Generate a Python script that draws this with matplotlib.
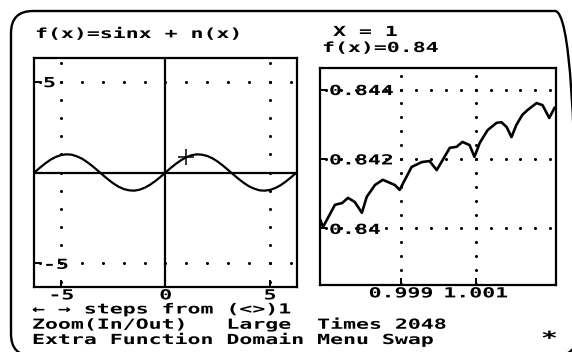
import numpy as np
import matplotlib
matplotlib.use('Agg')
import matplotlib.pyplot as plt
import matplotlib.patheffects as pe
from matplotlib.transforms import Affine2D, IdentityTransform
from matplotlib.patches import FancyBboxPatch

plt.rcParams.update({
    'font.family': ['DejaVu Sans Mono', 'DejaVu Sans'],
    'font.weight': 'bold',
    'font.size': 10,
})

W, H = 572, 352  # output size in pixels
SX = 1.55        # the screen font is much wider than it is tall

# left panel: f(x) = sin x + n(x), whole domain
full_x = np.linspace(-6.25, 6.25, 51)
full_y = [0.03, 0.28, 0.51, 0.71, 0.86, 0.96, 1.00, 0.98, 0.89, 0.76,
          0.57, 0.35, 0.11, -0.14, -0.38, -0.60, -0.78, -0.91, -0.98, -1.00,
          -0.95, -0.84, -0.68, -0.48, -0.25, 0.00, 0.25, 0.48, 0.68, 0.84,
          0.95, 1.00, 0.98, 0.91, 0.78, 0.60, 0.38, 0.14, -0.11, -0.35,
          -0.57, -0.76, -0.89, -0.98, -1.00, -0.96, -0.86, -0.71, -0.51, -0.28,
          -0.03]
cursor_x, cursor_y = 1.0, 0.84
full_xticks = [-5, 0, 5]
full_xlabels = ['-5', '0', '5']
full_yticks = [-5, 5]
full_ylabels = ['-5', '5']

# right panel: zoom around x = 1
zoom_x = [0.99684, 0.99692, 0.99724, 0.99743, 0.99759, 0.99777, 0.99796, 0.99809,
          0.99831, 0.99852, 0.99865, 0.99884, 0.99897, 0.99911, 0.99929, 0.99956,
          0.99977, 0.99996, 1.00012, 1.00031, 1.00049, 1.00065, 1.00084, 1.00097,
          1.00111, 1.00132, 1.00156, 1.00169, 1.00183, 1.00196, 1.00209, 1.00225,
          1.00239, 1.00263, 1.00279, 1.00297, 1.00311]
zoom_y = [0.84027, 0.84004, 0.84068, 0.84073, 0.84088, 0.84076, 0.84045, 0.84091,
          0.84125, 0.84140, 0.84134, 0.84125, 0.84111, 0.84140, 0.84177, 0.84191,
          0.84194, 0.84168, 0.84197, 0.84232, 0.84235, 0.84249, 0.84240, 0.84206,
          0.84246, 0.84283, 0.84304, 0.84306, 0.84292, 0.84263, 0.84298, 0.84327,
          0.84341, 0.84361, 0.84355, 0.84318, 0.84347]
zoom_xticks = [0.999, 1.001]
zoom_xlabels = ['0.999', '1.001']
zoom_yticks = [0.84, 0.842, 0.844]
zoom_ylabels = ['0.84', '0.842', '0.844']

menu_lines = ['\u2190 \u2192 steps from (<>)1',
              'Zoom(In/Out)   Large  Times 2048',
              'Extra Function Domain Menu Swap']


class Wide(pe.AbstractPathEffect):
    """Stretch text sideways, like the old pixel font."""
    def __init__(self, sx=SX, anchor=0.0):
        super().__init__()
        self.sx = sx
        self.anchor = anchor

    def draw_path(self, renderer, gc, tpath, affine, rgbFace=None):
        v = tpath.vertices
        cx = v[:, 0].max() * self.anchor if len(v) else 0.0
        t = Affine2D().translate(-cx, 0).scale(self.sx, 1).translate(cx, 0) + affine
        renderer.draw_path(gc, tpath, t, rgbFace)


def screen_text(x, y, s, **kw):
    # x, y: left edge and baseline (of the last line) in pixels from the top left
    return fig.text(x / W, 1 - y / H, s, ha='left', va='baseline',
                    path_effects=[Wide()], **kw)


def px_axes(left, top, right, bottom):
    return fig.add_axes([left / W, 1 - bottom / H, (right - left) / W, (bottom - top) / H])


def dots(ax, xs, ys):
    ax.plot(xs, ys, linestyle='none', marker='o', ms=2.2, color='black',
            mec='none', zorder=1)


def style_axes(ax, xticks, xlabels, yticks, ylabels):
    for s in ax.spines.values():
        s.set_linewidth(1.6)
    ax.set_xticks(xticks, xlabels)
    ax.set_yticks(yticks, [''] * len(yticks))
    ax.tick_params(direction='in', length=5, width=1.4, pad=1)
    for lab in ax.get_xticklabels():
        lab.set_path_effects([Wide(anchor=0.5)])
    for v, lab in zip(yticks, ylabels):
        ax.annotate(lab, xy=(0, v), xycoords=('axes fraction', 'data'),
                    xytext=(9, 0), textcoords='offset pixels',
                    ha='left', va='center_baseline', path_effects=[Wide()])


fig = plt.figure(figsize=(W / 100, H / 100), dpi=100)

# rounded screen border
fig.add_artist(FancyBboxPatch((11, -4), 566, H - 11 + 4,
                              boxstyle='round,pad=0,rounding_size=22',
                              transform=IdentityTransform(),
                              fill=False, lw=1.7, ec='black'))

# ---- left panel
ax1 = px_axes(34, 58, 297, 287)
ax1.set_xlim(-6.3, 6.3)
ax1.set_ylim(-6.3, 6.3)
ax1.axhline(0, color='black', lw=1.6)
ax1.axvline(0, color='black', lw=1.6)
steps = np.arange(-6, 7)
for t in full_xticks:
    if t != 0:
        dots(ax1, np.full(len(steps), t), steps)
for t in full_yticks:
    dots(ax1, steps, np.full(len(steps), t))
ax1.plot(full_x, full_y, color='black', lw=1.6)
ax1.plot([cursor_x], [cursor_y], marker='+', ms=12, mew=1.1, color='black')
style_axes(ax1, full_xticks, full_xlabels, full_yticks, full_ylabels)

# ---- right panel
ax2 = px_axes(320, 68, 556, 285)
ax2.set_xlim(0.99684, 1.00315)
ax2.set_ylim(0.83837, 0.84462)
zx = 0.999 + 0.0004 * np.arange(-6, 12)
zy = 0.840 + 0.0004 * np.arange(-6, 13)
for t in zoom_xticks:
    dots(ax2, np.full(len(zy), t), zy)
for t in zoom_yticks:
    dots(ax2, zx, np.full(len(zx), t))
ax2.plot(zoom_x, zoom_y, color='black', lw=1.9)
style_axes(ax2, zoom_xticks, zoom_xlabels, zoom_yticks, zoom_ylabels)

# ---- screen text
screen_text(35, 38, 'f(x)=sinx + n(x)')
screen_text(333, 36, 'X = 1')
screen_text(322, 52, 'f(x)=0.84')
screen_text(32, 344, '\n'.join(menu_lines), linespacing=1.1)
screen_text(541, 344, '*', fontsize=13)

fig.savefig('out.png', dpi=100)
